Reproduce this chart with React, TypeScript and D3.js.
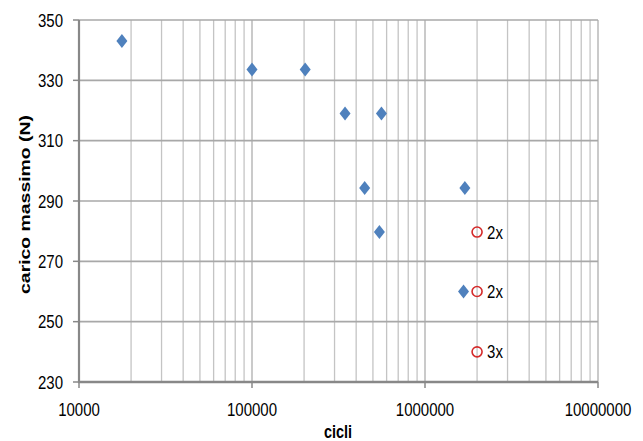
import React from "react";
import * as d3 from "d3";

const cycles = [17700, 100000, 203000, 345000, 560000, 448000, 545000, 1700000, 1670000];
const loads = [343, 333.6, 333.6, 319, 319, 294.3, 279.7, 294.3, 260];
const runoutCycles = [2000000, 2000000, 2000000];
const runoutLoads = [279.7, 260, 240];
const runoutLabels = ["2x", "2x", "3x"];
const xTicks = [10000, 100000, 1000000, 10000000];
const yTicks = [230, 250, 270, 290, 310, 330, 350];

const W = 643, H = 441;
const left = 79, right = 598, top = 20, bottom = 382;
const FONT = "'Liberation Sans', Arial, sans-serif";
const SY = 1.22;

export default function App() {
  const x = d3.scaleLog().domain([1e4, 1e7]).range([left, right]);
  const y = d3.scaleLinear().domain([230, 350]).range([bottom, top]);
  const minor: number[] = [];
  for (let e = 4; e < 7; e++) for (let k = 2; k <= 9; k++) minor.push(k * Math.pow(10, e));
  const diamond = (cx: number, cy: number) =>
    `M${cx},${cy - 7}L${cx + 5.5},${cy}L${cx},${cy + 7}L${cx - 5.5},${cy}Z`;
  return (
    <svg width={W} height={H} style={{ position: "absolute", left: 0, top: 0, background: "#fff" }}>
      {minor.map((v, i) => (
        <line key={"m" + i} x1={x(v)} x2={x(v)} y1={top} y2={bottom} stroke="#C4C4C4" strokeWidth={1.3} />
      ))}
      {xTicks.slice(1).map((v, i) => (
        <line key={"xm" + i} x1={x(v)} x2={x(v)} y1={top} y2={bottom} stroke="#B8B8B8" strokeWidth={1.5} />
      ))}
      {yTicks.slice(1).map((v, i) => (
        <line key={"yg" + i} x1={left} x2={right} y1={y(v)} y2={y(v)} stroke="#A8A8A8" strokeWidth={1.6} />
      ))}
      <line x1={left} x2={left} y1={top} y2={bottom + 1} stroke="#888" strokeWidth={2.2} />
      <line x1={left - 1} x2={right} y1={bottom} y2={bottom} stroke="#888" strokeWidth={2.4} />
      {yTicks.map((v, i) => (
        <line key={"yt" + i} x1={left - 6} x2={left} y1={y(v)} y2={y(v)} stroke="#888" strokeWidth={1.5} />
      ))}
      {xTicks.map((v, i) => (
        <line key={"xt" + i} x1={x(v)} x2={x(v)} y1={bottom} y2={bottom + 6} stroke="#888" strokeWidth={1.5} />
      ))}
      {yTicks.map((v, i) => (
        <text key={"yl" + i} transform={`translate(63,${y(v) + 6.5}) scale(1,${SY})`} textAnchor="end" fontFamily={FONT} fontSize={15} fill="#000">
          {v}
        </text>
      ))}
      {xTicks.map((v, i) => (
        <text key={"xl" + i} transform={`translate(${x(v)},416) scale(1,${SY})`} textAnchor="middle" fontFamily={FONT} fontSize={15} fill="#000">
          {v}
        </text>
      ))}
      <text transform={`translate(338,438) scale(1,1.25)`} textAnchor="middle" fontFamily={FONT} fontWeight="bold" fontSize={14.5} fill="#000">
        cicli
      </text>
      <text transform={`translate(30,204.5) rotate(-90) scale(1.26,1)`} textAnchor="middle" fontFamily={FONT} fontWeight="bold" fontSize={15.4} fill="#000">
        carico massimo (N)
      </text>
      {cycles.map((c, i) => (
        <path key={"d" + i} d={diamond(x(c), y(loads[i]))} fill="#4F81BD" />
      ))}
      {runoutCycles.map((c, i) => (
        <g key={"r" + i}>
          <circle cx={x(c)} cy={y(runoutLoads[i])} r={5} fill="none" stroke="#D42A2A" strokeWidth={1.6} />
          <text transform={`translate(${x(c) + 10},${y(runoutLoads[i]) + 6.5}) scale(1,${SY})`} fontFamily={FONT} fontSize={15} fill="#000">
            {runoutLabels[i]}
          </text>
        </g>
      ))}
    </svg>
  );
}
